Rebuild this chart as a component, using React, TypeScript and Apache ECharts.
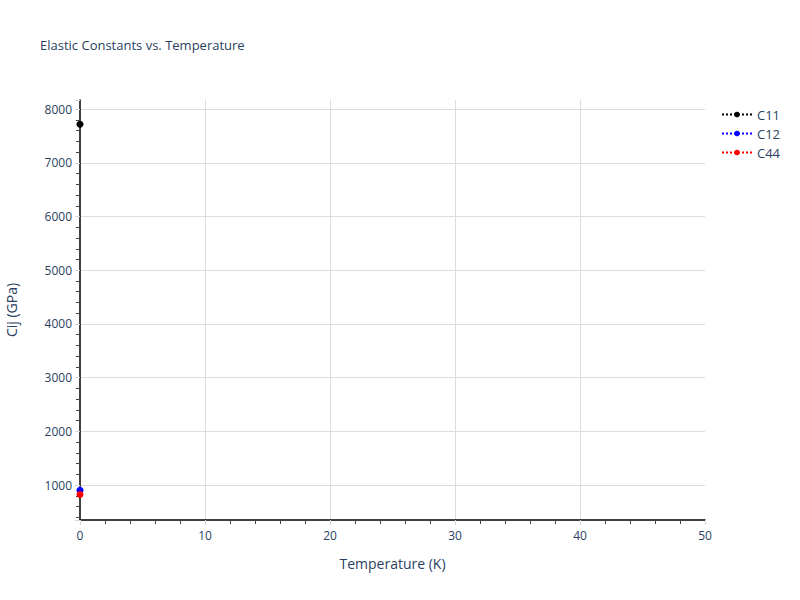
import React, { useEffect, useRef } from 'react';
import * as echarts from 'echarts';

// values
const temperatures = [0];
const c11Values = [7720];
const c12Values = [905];
const c44Values = [825];

const seriesNames = ['C11', 'C12', 'C44'];
const seriesColors = ['#000000', '#0000ff', '#ff0000'];

const FONT = '"Open Sans", Verdana, Arial, sans-serif';
const TEXT_COLOR = '#2a3f5f';

const App: React.FC = () => {
  const chartRef = useRef<HTMLDivElement>(null);

  useEffect(() => {
    if (!chartRef.current) return;
    document.body.style.margin = '0';

    const chart = echarts.init(chartRef.current, undefined, { renderer: 'svg' });

    const allValues = [c11Values, c12Values, c44Values];

    const option = {
      animation: false,
      backgroundColor: '#fff',
      textStyle: { fontFamily: FONT },
      title: {
        text: 'Elastic Constants vs. Temperature',
        left: 35,
        top: 33,
        textStyle: { fontFamily: FONT, fontSize: 13, fontWeight: 'normal', color: TEXT_COLOR }
      },
      legend: {
        orient: 'vertical',
        left: 716,
        top: 103,
        itemWidth: 30,
        itemHeight: 7,
        itemGap: 6,
        data: seriesNames,
        textStyle: { fontFamily: FONT, fontSize: 13, color: TEXT_COLOR }
      },
      grid: {
        left: 80,
        right: 95,
        top: 100,
        bottom: 80,
        outerBoundsMode: 'none',
        containLabel: false
      },
      xAxis: {
        type: 'value',
        min: 0,
        max: 50,
        interval: 10,
        name: 'Temperature (K)',
        nameLocation: 'middle',
        nameGap: 36,
        nameTextStyle: { fontFamily: FONT, fontSize: 14, color: TEXT_COLOR },
        axisLine: { show: true, onZero: false, lineStyle: { color: '#000', width: 1.5 } },
        axisTick: { show: true, length: 5, lineStyle: { color: '#d8d8d8' } },
        minorTick: { show: true, splitNumber: 5, length: 4, lineStyle: { color: '#444' } },
        axisLabel: { fontFamily: FONT, fontSize: 12, color: TEXT_COLOR, margin: 9 },
        splitLine: { show: true, showMinLine: false, showMaxLine: false, lineStyle: { color: '#dcdcdc' } }
      },
      yAxis: {
        type: 'value',
        min: 350,
        max: 8170,
        splitNumber: 8,
        name: 'Cij (GPa)',
        nameLocation: 'middle',
        nameGap: 62,
        nameTextStyle: { fontFamily: FONT, fontSize: 14, color: TEXT_COLOR },
        axisLine: { show: true, onZero: false, lineStyle: { color: '#000', width: 1.5 } },
        axisTick: { show: true, length: 5, lineStyle: { color: '#d8d8d8' } },
        minorTick: { show: true, splitNumber: 5, length: 4, lineStyle: { color: '#444' } },
        axisLabel: {
          fontFamily: FONT,
          fontSize: 12,
          color: TEXT_COLOR,
          margin: 8,
          showMinLabel: false,
          showMaxLabel: false,
          formatter: (v: number) => String(v)
        },
        splitLine: { show: true, showMinLine: false, showMaxLine: false, lineStyle: { color: '#dcdcdc' } }
      },
      series: seriesNames.map((name, i) => ({
        name,
        type: 'line',
        data: temperatures.map((t, j) => [t, allValues[i][j]]),
        symbol: 'circle',
        symbolSize: 7,
        clip: false,
        itemStyle: { color: seriesColors[i] },
        lineStyle: { color: seriesColors[i], type: 'dotted', width: 2 }
      }))
    };

    chart.setOption(option);

    return () => {
      chart.dispose();
    };
  }, []);

  return <div ref={chartRef} style={{ width: '800px', height: '600px' }} />;
};

export default App;
